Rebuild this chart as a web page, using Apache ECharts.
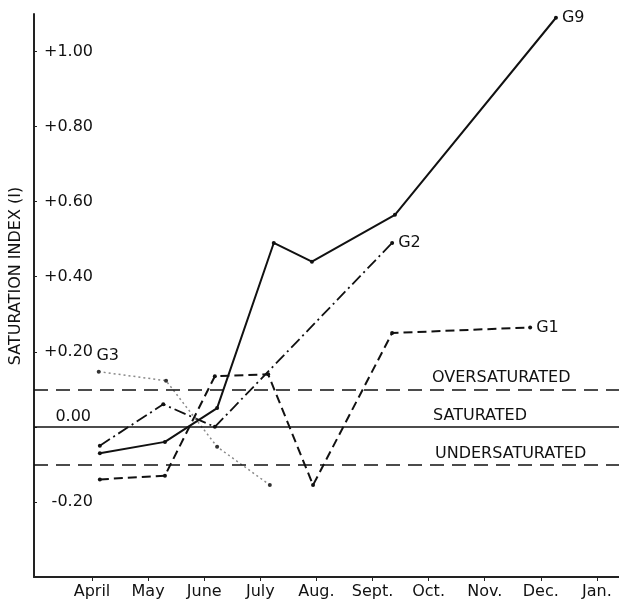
<!DOCTYPE html>
<html>
<head>
<meta charset="utf-8">
<script src="https://cdn.jsdelivr.net/npm/echarts@6/dist/echarts.min.js"></script>
<style>
html,body{margin:0;padding:0;background:#fff;}
#chart{width:619px;height:606px;}
</style>
</head>
<body>
<div id="chart"></div>
<script>
// Month tick labels (x = 0 is April)
const monthLabels = ['April', 'May', 'June', 'July', 'Aug.', 'Sept.', 'Oct.', 'Nov.', 'Dec.', 'Jan.'];
const monthTicks = [0, 1, 2, 3, 4, 5, 6, 7, 8, 9];
const yTickValues = [-0.2, 0, 0.2, 0.4, 0.6, 0.8, 1.0];
const yLabelValues = [-0.2, 0.2, 0.4, 0.6, 0.8, 1.0];

// Series (x in months from April, y = saturation index)
const g9X = [0.14, 1.30, 2.23, 3.24, 3.92, 5.40, 8.27];
const g9Y = [-0.07, -0.04, 0.05, 0.49, 0.44, 0.565, 1.09];
const g2X = [0.14, 1.27, 2.19, 5.35];
const g2Y = [-0.05, 0.06, 0.00, 0.49];
const g1X = [0.14, 1.30, 2.19, 3.14, 3.94, 5.35, 7.81];
const g1Y = [-0.14, -0.13, 0.135, 0.14, -0.155, 0.25, 0.265];
const g3X = [0.12, 1.32, 2.23, 3.17];
const g3Y = [0.147, 0.123, -0.053, -0.155];

// Reference levels
const refLevels = [0.1, 0, -0.1];
const refNames = ['OVERSATURATED', 'SATURATED', 'UNDERSATURATED'];

const FONT = 'DejaVu Sans';
const pairs = (xs, ys) => xs.map((x, i) => [x, ys[i]]);

const chart = echarts.init(document.getElementById('chart'), null, {renderer: 'canvas'});

function lineSeries(name, xs, ys, lineStyle, symbolColor, showEnd) {
  return {
    name: name,
    type: 'line',
    data: pairs(xs, ys),
    symbol: 'circle',
    symbolSize: 4,
    showSymbol: true,
    itemStyle: {color: symbolColor},
    lineStyle: lineStyle,
    animation: false,
    silent: true,
    z: 3,
    endLabel: showEnd ? {show: true, formatter: name, fontFamily: FONT, fontSize: 16, color: '#111', distance: 6} : {show: false}
  };
}

const g3Data = pairs(g3X, g3Y);
g3Data[0] = {value: g3Data[0], label: {show: true, position: 'top', formatter: 'G3', offset: [9, 0], distance: 6, fontFamily: FONT, fontSize: 16, color: '#111'}};

const option = {
  backgroundColor: '#fff',
  animation: false,
  grid: {left: 34, right: 0, top: 14, bottom: 29, containLabel: false},
  xAxis: {
    type: 'value',
    min: -58 / 56.1,
    max: 527 / 56.1,
    splitLine: {show: false},
    axisLine: {show: true, onZero: false, lineStyle: {color: '#222', width: 2}},
    axisTick: {show: true, customValues: monthTicks, length: 4, inside: false, lineStyle: {color: '#222', width: 1}},
    axisLabel: {
      show: true,
      customValues: monthTicks,
      formatter: v => monthLabels[Math.round(v)] || '',
      fontFamily: FONT, fontSize: 16, color: '#111', margin: 7
    }
  },
  yAxis: {
    type: 'value',
    min: -0.4,
    max: 1.1,
    splitLine: {show: false},
    axisLine: {show: true, onZero: false, lineStyle: {color: '#222', width: 2}},
    axisTick: {show: true, customValues: yTickValues, length: 3, inside: true, lineStyle: {color: '#222', width: 1}},
    axisLabel: {
      show: true,
      inside: true,
      align: 'right',
      margin: 59,
      customValues: yLabelValues,
      formatter: v => (v > 0 ? '+' : '') + v.toFixed(2),
      fontFamily: FONT, fontSize: 16, color: '#111'
    }
  },
  series: [
    Object.assign(lineSeries('G9', g9X, g9Y, {color: '#111', width: 2, type: 'solid'}, '#111', true), {
      markLine: {
        silent: true,
        symbol: 'none',
        label: {show: false},
        animation: false,
        data: refLevels.map(v => ({
          yAxis: v,
          lineStyle: {color: '#111', width: 1.5, type: v === 0 ? 'solid' : [14, 8]}
        }))
      }
    }),
    lineSeries('G2', g2X, g2Y, {color: '#111', width: 1.8, type: [12, 4, 2, 4]}, '#111', true),
    lineSeries('G1', g1X, g1Y, {color: '#111', width: 2, type: [9, 5]}, '#111', true),
    Object.assign(lineSeries('G3', g3X, g3Y, {color: '#8a8a8a', width: 1.5, type: [2, 3]}, '#333', false), {data: g3Data})
  ]
};

chart.setOption(option);

// Text annotations placed via axis conversion
const gfx = [];
refLevels.forEach((v, i) => {
  const py = chart.convertToPixel({yAxisIndex: 0}, v);
  const xs = [432, 433, 435];
  gfx.push({
    type: 'text', x: xs[i], y: py - 11,
    style: {text: refNames[i], font: '16px "DejaVu Sans"', fill: '#111', textAlign: 'left', textVerticalAlign: 'middle'},
    silent: true
  });
});
const p0 = chart.convertToPixel({yAxisIndex: 0}, 0);
gfx.push({
  type: 'text', x: 91, y: p0 - 10,
  style: {text: '0.00', font: '16px "DejaVu Sans"', fill: '#111', textAlign: 'right', textVerticalAlign: 'middle'},
  silent: true
});
gfx.push({
  type: 'text', x: 15.5, y: 276, rotation: Math.PI / 2,
  style: {text: 'SATURATION INDEX (I)', font: '16px "DejaVu Sans"', fill: '#111', textAlign: 'center', textVerticalAlign: 'middle'},
  silent: true
});
chart.setOption({graphic: gfx});
</script>
</body>
</html>
